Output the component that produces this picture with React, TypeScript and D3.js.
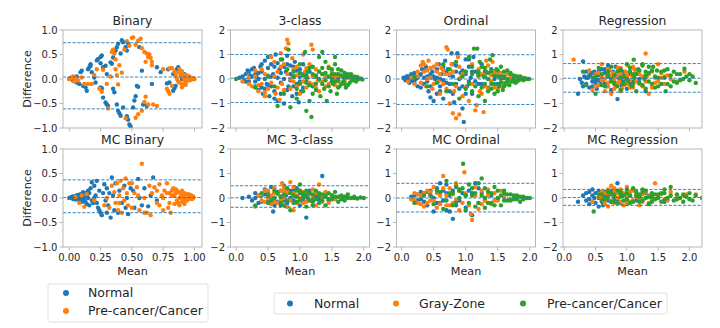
import React from "react";
import * as d3 from "d3";

type P = [number, number];

// ---------- class names / colours ----------
const classes3 = ["Normal", "Gray-Zone", "Pre-cancer/Cancer"];
const classes2 = ["Normal", "Pre-cancer/Cancer"];
const colors3 = ["#1f77b4", "#ff7f0e", "#2ca02c"];
const colors2 = ["#1f77b4", "#ff7f0e"];

// ---------- tick labels ----------
const xTicksBinary = [0, 0.25, 0.5, 0.75, 1.0];
const xTicksOther = [0, 0.5, 1.0, 1.5, 2.0];
const yTicksBinary = [-1, -0.5, 0, 0.5, 1];
const yTicksOther = [-2, -1, 0, 1, 2];

// ---------- limits of agreement (upper, mean, lower) ----------
const loaBinary = [0.74, 0.04, -0.61];
const loa3class = [1.0, 0.03, -0.96];
const loaOrdinal = [0.99, 0.0, -1.04];
const loaRegression = [0.63, 0.03, -0.54];
const loaMCBinary = [0.37, 0.01, -0.3];
const loaMC3class = [0.5, 0.01, -0.38];
const loaMCOrdinal = [0.6, 0.0, -0.57];
const loaMCRegression = [0.35, 0.02, -0.3];

// ---------- Binary ----------
const binaryNormal: P[] = [
  [0.0, 0.0], [0.01, 0.02], [0.03, -0.03], [0.04, 0.0], [0.06, 0.05], [0.06, -0.07], [0.08, -0.1], [0.09, 0.14],
  [0.1, 0.17], [0.11, -0.14], [0.13, -0.17], [0.14, -0.24], [0.15, 0.2], [0.16, 0.24], [0.17, 0.3], [0.17, 0.27],
  [0.18, 0.14], [0.2, 0.03], [0.21, -0.07], [0.22, 0.38], [0.23, 0.41], [0.25, 0.45], [0.26, 0.48], [0.25, 0.32],
  [0.27, 0.24], [0.29, 0.27], [0.3, 0.1], [0.25, -0.17], [0.26, -0.19], [0.27, -0.38], [0.29, -0.48], [0.3, -0.52],
  [0.31, -0.55], [0.33, 0.34], [0.34, 0.31], [0.35, 0.44], [0.37, 0.58], [0.38, 0.65], [0.39, 0.72], [0.41, 0.52],
  [0.42, 0.79], [0.43, 0.75], [0.45, 0.65], [0.46, 0.58], [0.47, 0.72], [0.35, -0.2], [0.36, -0.27], [0.38, -0.52],
  [0.39, -0.65], [0.4, -0.7], [0.41, -0.75], [0.43, -0.58], [0.46, -0.76], [0.47, -0.83], [0.48, -0.93], [0.49, -0.97],
  [0.51, -0.58], [0.52, -0.44], [0.53, -0.35], [0.54, -0.14], [0.55, -0.16], [0.56, 0.65], [0.58, 0.17], [0.59, -0.52],
  [0.62, -0.55], [0.66, -0.1], [0.7, 0.24], [0.73, 0.14], [0.78, -0.09], [0.79, 0.2], [0.8, -0.07], [0.83, 0.1],
  [0.86, 0.2], [0.87, 0.24], [0.88, 0.17], [0.9, 0.0], [0.85, -0.14], [0.84, -0.19], [0.83, -0.24], [0.92, 0.1],
];
const binaryCancer: P[] = [
  [0.0, 0.0], [0.01, 0.01], [0.02, 0.03], [0.03, 0.05], [0.04, -0.05], [0.05, 0.02], [0.07, -0.03], [0.1, 0.03],
  [0.12, -0.1], [0.15, -0.1], [0.18, -0.1], [0.2, 0.08], [0.22, 0.2], [0.24, -0.2], [0.26, -0.26], [0.27, 0.19],
  [0.3, -0.1], [0.31, -0.6], [0.33, 0.05], [0.34, 0.55], [0.35, 0.6], [0.36, 0.52], [0.37, 0.4], [0.37, 0.2],
  [0.38, 0.08], [0.39, -0.11], [0.4, 0.28], [0.42, 0.13], [0.44, 0.6], [0.46, 0.77], [0.48, 0.68], [0.5, 0.84],
  [0.51, 0.85], [0.53, 0.7], [0.55, 0.78], [0.57, 0.82], [0.58, 0.63], [0.6, 0.55], [0.61, 0.35], [0.62, 0.52],
  [0.63, 0.45], [0.64, 0.5], [0.65, 0.43], [0.66, 0.35], [0.66, 0.28], [0.55, -0.72], [0.58, -0.65], [0.6, -0.47],
  [0.61, -0.36], [0.63, -0.52], [0.67, -0.52], [0.53, -0.79], [0.45, -0.8], [0.7, -0.55], [0.75, 0.2], [0.8, 0.22],
  [0.82, 0.22], [0.84, 0.15], [0.85, 0.12], [0.85, 0.06], [0.86, 0.0], [0.87, -0.05], [0.88, -0.07], [0.88, 0.13],
  [0.89, 0.06], [0.9, 0.1], [0.9, -0.1], [0.91, 0.05], [0.92, 0.08], [0.92, -0.02], [0.93, 0.04], [0.93, -0.06],
  [0.94, 0.07], [0.95, 0.02], [0.95, -0.03], [0.96, 0.05], [0.97, 0.0], [0.97, -0.02], [0.98, 0.02], [0.99, 0.0],
  [0.99, 0.01], [1.0, 0.0], [0.78, -0.2], [0.8, -0.3], [0.79, -0.25], [0.82, -0.14], [0.9, -0.17], [0.93, -0.12],
  [0.88, 0.2], [0.9, 0.16],
];

// ---------- 3-class ----------
const threeNormal: P[] = [
  [0.05, 0.05], [0.1, 0.1], [0.12, -0.05], [0.15, 0.2], [0.18, 0.35], [0.2, -0.1], [0.22, 0.15], [0.25, 0.4],
  [0.28, 0.45], [0.3, -0.3], [0.32, 0.1], [0.35, -0.45], [0.38, 0.5], [0.4, 0.3], [0.42, -0.6], [0.45, 0.75],
  [0.48, -0.2], [0.5, 0.9], [0.52, -0.7], [0.55, 0.6], [0.58, 0.2], [0.6, -0.5], [0.62, 1.0], [0.65, -0.9],
  [0.68, 0.4], [0.7, -0.15], [0.72, 0.8], [0.75, -1.0], [0.78, 0.3], [0.8, 0.95], [0.82, -0.3], [0.85, 0.55],
  [0.88, -0.7], [0.9, 0.1], [0.92, 0.7], [0.95, -0.2], [0.98, -0.95], [1.0, 0.4], [1.02, -0.5], [1.05, 0.2],
  [1.1, -0.1], [1.15, 0.3], [1.2, -0.3], [1.25, 0.1], [1.3, -0.05], [1.4, 0.15], [1.5, -0.1], [1.6, 0.05],
  [1.7, 0.0], [0.3, 0.2], [0.55, -0.3], [0.65, 0.05], [0.75, 0.5], [0.85, -0.05], [0.95, 0.35], [1.05, -0.35],
  [1.8, 0.02], [0.15, -0.1], [0.2, 0.3], [0.25, 0.1], [0.3, -0.1], [0.35, 0.25], [0.4, -0.35], [0.45, 0.0],
  [0.5, 0.45], [0.5, -0.25], [0.55, 0.1], [0.6, 0.5], [0.6, -0.8], [0.65, 0.65], [0.7, 0.25], [0.7, -0.6],
  [0.75, 0.0], [0.8, -0.45], [0.8, 0.6], [0.85, 0.2], [0.9, -0.3], [0.9, 0.5], [0.95, -0.6], [1.0, 0.1],
  [1.0, -0.1], [1.05, 0.6], [1.1, 0.15], [1.15, -0.2], [0.4, 0.6], [0.45, -0.4], [0.35, 0.0],
];
const threeGray: P[] = [
  [0.1, -0.1], [0.2, 0.05], [0.25, -0.3], [0.3, 0.35], [0.35, -0.5], [0.4, -0.2], [0.45, 0.2], [0.5, -0.4],
  [0.55, 0.9], [0.6, 0.7], [0.62, -0.6], [0.65, 0.3], [0.7, 1.05], [0.72, -0.2], [0.75, 0.6], [0.78, 1.25],
  [0.8, 1.6], [0.82, 1.45], [0.85, -0.4], [0.88, 0.85], [0.9, -0.1], [0.95, 0.5], [1.0, -0.6], [1.05, 1.0],
  [1.08, 0.3], [1.1, -0.35], [1.15, 0.6], [1.18, 1.4], [1.2, 1.2], [1.22, -0.2], [1.25, 0.4], [1.3, -0.5],
  [1.35, 0.2], [1.4, -0.3], [1.45, 0.5], [1.5, 0.1], [1.55, -0.25], [1.6, 0.15], [1.7, -0.1], [1.8, 0.05],
  [1.9, 0.0], [0.45, -0.7], [0.68, -0.85], [0.95, 0.15], [1.12, 0.05], [1.28, -0.05], [0.2, -0.2], [0.3, 0.1],
  [0.35, -0.25], [0.4, 0.4], [0.45, -0.55], [0.5, 0.15], [0.55, -0.15], [0.6, 0.1], [0.65, -0.35], [0.7, 0.5],
  [0.75, -0.45], [0.8, 0.2], [0.85, 0.0], [0.9, 0.4], [0.95, -0.3], [1.0, 0.2], [1.05, -0.1], [1.1, 0.45],
  [1.15, -0.15], [1.2, 0.1], [1.25, -0.35], [1.3, 0.3], [1.35, -0.1], [1.4, 0.1], [1.45, -0.2], [1.5, 0.3],
  [1.55, 0.05], [1.6, -0.1], [1.65, 0.1], [1.75, 0.05],
];
const threeCancer: P[] = [
  [0.0, 0.0], [0.3, -0.35], [0.5, 0.1], [0.6, -0.3], [0.65, -1.1], [0.7, 0.8], [0.75, -0.6], [0.8, 0.4],
  [0.82, 1.2], [0.85, -1.15], [0.9, 0.1], [0.95, -0.8], [1.0, 0.6], [1.05, -0.5], [1.08, 1.1], [1.1, -1.3],
  [1.12, 0.3], [1.15, -0.9], [1.18, -1.55], [1.2, 0.5], [1.25, -0.2], [1.3, 0.9], [1.32, -0.7], [1.35, 0.2],
  [1.38, -0.4], [1.4, 0.7], [1.42, -0.9], [1.45, 0.1], [1.48, -0.5], [1.5, 0.4], [1.52, -0.2], [1.55, 0.6],
  [1.58, -0.6], [1.6, 0.2], [1.62, -0.3], [1.65, 0.35], [1.68, -0.1], [1.7, 0.25], [1.72, -0.35], [1.75, 0.1],
  [1.78, -0.15], [1.8, 0.2], [1.82, -0.05], [1.85, 0.1], [1.88, -0.1], [1.9, 0.05], [1.92, 0.0], [1.95, 0.02],
  [1.98, -0.02], [1.3, 0.0], [1.4, -0.05], [1.5, 0.0], [1.6, -0.05], [1.0, -0.2], [1.1, 0.05], [1.2, -0.6],
  [1.35, 1.1], [1.55, 0.9], [0.9, 0.3], [0.95, -0.4], [1.0, 0.25], [1.05, 0.15], [1.1, -0.15], [1.15, 0.45],
  [1.2, 0.2], [1.25, -0.45], [1.3, 0.3], [1.35, -0.2], [1.4, 0.25], [1.45, -0.3], [1.5, 0.2], [1.55, -0.1],
  [1.6, 0.4], [1.65, -0.2], [1.7, 0.1], [1.75, -0.25], [1.8, 0.1], [1.85, -0.05], [1.45, 0.45], [1.35, 0.45],
  [1.25, 0.15], [1.15, -0.25], [1.55, 0.2], [1.65, 0.15], [1.75, 0.2], [1.9, 0.08], [1.7, -0.2], [1.6, -0.35],
];

// ---------- Ordinal ----------
const ordNormal: P[] = [
  [0.03, 0.05], [0.06, -0.05], [0.08, 0.1], [0.1, 0.0], [0.12, -0.15], [0.15, 0.2], [0.18, -0.1], [0.2, 0.25],
  [0.22, 0.0], [0.25, -0.3], [0.28, 0.15], [0.3, -0.35], [0.32, 0.4], [0.35, -0.2], [0.38, 0.5], [0.4, 0.1],
  [0.42, -0.5], [0.45, -0.75], [0.48, 0.3], [0.5, -0.9], [0.52, 0.0], [0.55, -0.6], [0.58, 0.6], [0.6, -0.3],
  [0.62, 0.2], [0.65, -0.8], [0.68, 0.75], [0.7, -0.15], [0.72, 0.4], [0.75, -0.5], [0.78, 1.05], [0.8, 0.1],
  [0.82, -0.95], [0.85, 0.55], [0.87, 1.05], [0.9, -0.4], [0.92, 0.25], [0.95, -1.2], [0.97, -1.75], [1.0, 0.8],
  [1.02, -0.3], [1.05, 0.5], [1.08, 0.05], [1.1, -0.6], [1.12, 0.9], [1.15, 0.3], [1.2, -0.2], [1.25, 0.6],
  [1.3, 0.1], [1.35, -0.35], [1.4, 0.4], [1.45, 0.0], [1.5, -0.2], [1.55, 0.15], [1.6, 0.05], [1.7, -0.05],
  [0.55, 0.05], [0.75, 0.15], [0.95, 0.35], [0.35, 0.05], [0.65, -0.05], [0.85, -0.2], [1.05, -0.1],
  [0.05, 0.0], [0.1, 0.1], [0.15, -0.05], [0.2, -0.15], [0.25, 0.05], [0.3, 0.2], [0.35, 0.35], [0.4, -0.1],
  [0.45, 0.2], [0.5, 0.1], [0.55, 0.4], [0.6, 0.0], [0.65, 0.5], [0.7, 0.3], [0.75, -0.2], [0.8, 0.6],
  [0.85, 0.3], [0.9, 0.0], [0.95, -0.3], [1.0, 0.2], [1.05, 0.8], [1.1, 0.3], [1.15, -0.1], [1.2, 0.2],
  [1.25, -0.2], [1.3, 0.3], [0.45, -0.3], [0.6, -0.5], [0.8, -0.6], [1.0, -0.6],
];
const ordGray: P[] = [
  [0.1, -0.1], [0.15, 0.05], [0.2, -0.2], [0.25, 0.3], [0.3, 0.55], [0.33, 0.7], [0.35, 0.6], [0.38, -0.3],
  [0.4, 0.35], [0.42, 0.75], [0.45, 0.05], [0.48, -0.4], [0.5, 0.5], [0.55, 0.3], [0.6, -0.6], [0.62, 0.45],
  [0.65, -0.2], [0.7, 1.3], [0.72, 1.2], [0.75, -1.0], [0.78, 0.6], [0.8, -1.4], [0.82, -0.5], [0.85, -1.6],
  [0.88, 0.9], [0.9, -1.45], [0.92, 0.05], [0.95, -0.7], [1.0, 0.3], [1.05, -0.9], [1.1, 0.6], [1.15, -1.28],
  [1.17, -1.07], [1.2, 0.4], [1.22, -0.5], [1.25, 0.2], [1.3, -0.3], [1.35, 0.55], [1.4, -0.1], [1.45, 0.3],
  [1.5, -0.4], [1.55, 0.25], [1.6, -0.15], [1.65, 0.2], [1.7, 0.05], [1.75, -0.1], [1.8, 0.1], [1.85, 0.0],
  [1.9, 0.05], [1.95, 0.0], [1.28, -1.35], [0.58, -0.1], [0.68, 0.2], [1.32, 0.75], [1.42, 0.7],
  [0.25, 0.1], [0.3, -0.15], [0.35, 0.3], [0.4, 0.0], [0.45, 0.45], [0.5, -0.2], [0.55, 0.6], [0.6, 0.2],
  [0.65, 0.35], [0.7, -0.4], [0.75, 0.2], [0.8, 0.3], [0.85, -0.3], [0.9, 0.5], [0.95, 0.2], [1.0, -0.35],
  [1.1, -0.2], [1.2, 0.1], [1.3, 0.2], [1.4, 0.15], [1.5, 0.2], [1.6, 0.1], [1.55, -0.3], [1.45, -0.35],
  [1.35, -0.4], [1.25, -0.6], [1.7, -0.1], [1.8, -0.05],
];
const ordCancer: P[] = [
  [0.2, 0.1], [0.4, -0.3], [0.55, -0.15], [0.65, 0.6], [0.7, -0.5], [0.75, 0.4], [0.8, -0.2], [0.85, 0.7],
  [0.9, -0.8], [0.95, 0.1], [1.0, -0.4], [1.05, 0.9], [1.1, 0.2], [1.13, 1.24], [1.18, 1.24], [1.2, -0.7],
  [1.25, 0.5], [1.28, 0.1], [1.3, -0.9], [1.32, 0.3], [1.35, -0.5], [1.38, 0.8], [1.4, -0.2], [1.42, 0.97],
  [1.45, -0.6], [1.48, 0.4], [1.5, 0.1], [1.52, -0.3], [1.55, 0.5], [1.58, -0.45], [1.6, 0.3], [1.62, -0.2],
  [1.65, 0.35], [1.68, -0.25], [1.7, 0.2], [1.72, -0.1], [1.75, 0.15], [1.78, -0.15], [1.8, 0.1], [1.83, -0.05],
  [1.85, 0.08], [1.88, 0.02], [1.9, -0.05], [1.93, 0.03], [1.96, 0.0], [1.99, 0.0], [1.55, 0.0], [1.65, 0.0],
  [1.45, 0.15], [1.35, 0.0], [1.75, -0.05], [1.1, -0.5], [1.22, 0.7], [1.0, 0.3], [1.05, -0.2], [1.1, 0.5],
  [1.15, -0.3], [1.2, 0.15], [1.25, -0.35], [1.3, 0.45], [1.35, 0.25], [1.4, 0.3], [1.45, -0.2], [1.5, 0.35],
  [1.55, -0.15], [1.6, 0.1], [1.65, -0.1], [1.7, 0.25], [1.75, 0.05], [1.8, -0.1], [1.85, 0.1], [1.9, 0.0],
  [1.4, -0.4], [1.5, -0.5], [1.6, -0.3], [1.3, -0.2], [1.2, 0.3],
];

// ---------- Regression ----------
const regNormal: P[] = [
  [0.22, -0.6], [0.25, 0.0], [0.28, -0.15], [0.3, 0.72], [0.32, 0.1], [0.35, -0.2], [0.38, 0.05], [0.4, -0.35],
  [0.42, 0.2], [0.45, -0.1], [0.48, 0.3], [0.5, 0.0], [0.52, -0.4], [0.55, 0.15], [0.58, -0.2], [0.6, 0.4],
  [0.62, -0.05], [0.65, 0.25], [0.68, -0.3], [0.7, 0.55], [0.72, 0.1], [0.75, -0.45], [0.78, 0.3], [0.8, -0.1],
  [0.82, 0.5], [0.85, -0.82], [0.88, 0.0], [0.9, 0.35], [0.92, -0.25], [0.95, 0.15], [1.0, -0.4], [1.05, 0.2],
  [1.1, -0.1], [1.15, 0.3], [1.2, 0.0], [1.3, -0.5], [0.35, 0.3], [0.55, -0.05], [0.75, 0.05], [0.95, -0.05],
  [0.3, -0.3], [0.35, 0.05], [0.4, 0.15], [0.45, 0.25], [0.5, -0.15], [0.55, 0.3], [0.6, 0.0], [0.65, -0.2],
  [0.7, 0.2], [0.75, 0.0], [0.8, 0.2], [0.85, 0.1], [0.9, -0.1], [0.95, 0.3], [1.0, 0.0], [1.05, -0.2],
  [0.45, -0.3], [0.65, 0.4],
];
const regGray: P[] = [
  [0.15, 0.79], [0.4, 0.35], [0.45, -0.45], [0.5, 0.2], [0.55, -0.25], [0.6, 0.6], [0.65, -0.5], [0.68, 0.1],
  [0.7, -0.15], [0.72, 0.35], [0.75, -0.6], [0.78, 0.25], [0.8, 0.0], [0.82, -0.3], [0.85, 0.45], [0.88, -0.1],
  [0.9, 0.2], [0.92, -0.4], [0.95, 0.05], [0.98, 0.3], [1.0, -0.2], [1.02, 0.55], [1.05, -0.05], [1.08, 0.15],
  [1.1, -0.35], [1.12, 0.4], [1.15, -0.1], [1.2, 0.2], [1.25, -0.3], [1.3, 1.04], [1.32, 0.1], [1.35, -0.6],
  [1.4, 0.3], [1.45, -0.15], [1.5, 0.6], [1.55, 0.05], [1.6, -0.2], [1.65, 0.15], [1.7, 0.0], [1.8, -0.1],
  [1.92, 0.3], [0.6, -0.05], [0.85, 0.1], [1.0, 0.1], [0.5, -0.3], [0.55, 0.25], [0.6, 0.15], [0.65, 0.0],
  [0.7, 0.4], [0.75, 0.15], [0.8, -0.4], [0.85, -0.2], [0.9, 0.45], [0.95, -0.25], [1.0, 0.25], [1.05, -0.35],
  [1.1, 0.1], [1.15, 0.3], [1.2, -0.2], [1.25, 0.1], [1.3, -0.1], [1.35, 0.2], [1.4, -0.35], [1.45, 0.05],
  [1.5, -0.1], [1.55, 0.25], [1.6, 0.1], [0.7, -0.3], [0.9, -0.5], [1.1, 0.5],
];
const regCancer: P[] = [
  [0.3, 0.3], [0.35, -0.25], [0.45, 0.05], [0.5, -0.6], [0.55, 0.45], [0.6, 0.2], [0.65, -0.3], [0.7, 0.1],
  [0.75, 0.5], [0.8, -0.2], [0.85, 0.3], [0.9, -0.45], [0.95, 0.1], [1.0, 0.6], [1.02, -0.1], [1.05, 0.3],
  [1.08, -0.3], [1.11, 0.79], [1.12, 0.05], [1.15, -0.5], [1.18, 0.4], [1.2, -0.15], [1.25, 0.55], [1.28, 0.0],
  [1.3, -0.4], [1.35, 0.25], [1.4, -0.2], [1.42, 0.5], [1.45, 0.1], [1.5, -0.3], [1.55, 0.3], [1.6, 0.05],
  [1.62, -0.5], [1.65, 0.4], [1.7, 0.15], [1.75, -0.1], [1.8, 0.2], [1.85, -0.05], [1.92, 0.42], [1.95, 0.1],
  [2.0, -0.05], [2.05, 0.1], [2.1, -0.16], [1.1, 0.2], [1.3, 0.15], [0.9, 0.05], [1.48, 0.35], [0.5, 0.1],
  [0.6, -0.25], [0.7, 0.3], [0.75, -0.1], [0.8, 0.15], [0.85, -0.3], [0.9, 0.4], [0.95, -0.2], [1.0, 0.0],
  [1.05, 0.45], [1.1, -0.2], [1.15, 0.2], [1.2, 0.35], [1.25, -0.25], [1.3, 0.3], [1.35, -0.1], [1.4, 0.35],
  [1.45, -0.35], [1.5, 0.05], [1.55, -0.2], [1.6, 0.35], [1.65, -0.2], [1.7, -0.3], [1.75, 0.3], [1.8, -0.15],
  [1.85, 0.2], [1.9, 0.0], [2.0, 0.2], [1.25, 0.6], [1.35, 0.5],
];

// ---------- MC Binary ----------
const mcBinaryNormal: P[] = [
  [0.0, 0.0], [0.02, 0.02], [0.03, -0.02], [0.04, 0.03], [0.05, -0.03], [0.06, 0.05], [0.07, 0.0], [0.08, -0.05],
  [0.09, 0.08], [0.1, 0.02], [0.1, -0.08], [0.11, 0.12], [0.12, -0.04], [0.13, 0.1], [0.14, -0.12], [0.15, 0.15],
  [0.15, 0.0], [0.16, -0.15], [0.17, 0.2], [0.18, 0.32], [0.19, -0.1], [0.2, 0.25], [0.21, 0.05], [0.22, 0.35],
  [0.23, -0.2], [0.24, 0.15], [0.25, -0.3], [0.26, -0.35], [0.27, 0.1], [0.28, 0.28], [0.29, -0.05], [0.3, 0.2],
  [0.31, -0.15], [0.33, -0.4], [0.34, 0.42], [0.35, 0.05], [0.36, -0.25], [0.37, 0.3], [0.39, -0.3], [0.4, 0.15],
  [0.42, -0.1], [0.44, 0.25], [0.46, 0.0], [0.47, -0.33], [0.49, 0.2], [0.51, 0.15], [0.52, -0.2], [0.55, 0.39],
  [0.56, 0.0], [0.58, -0.15], [0.6, 0.2], [0.63, -0.17], [0.65, 0.05], [0.67, 0.42], [0.7, -0.05],
  [0.01, 0.01], [0.03, 0.03], [0.05, 0.0], [0.07, 0.06], [0.08, 0.02], [0.09, -0.02], [0.11, 0.0], [0.12, 0.06],
  [0.13, -0.08], [0.14, 0.04], [0.16, 0.1], [0.18, -0.05], [0.2, 0.0], [0.22, -0.1], [0.24, -0.25], [0.3, -0.3],
  [0.32, 0.1], [0.45, -0.2],
];
const mcBinaryCancer: P[] = [
  [0.05, 0.02], [0.08, -0.1], [0.1, 0.05], [0.12, -0.18], [0.14, 0.08], [0.2, -0.05], [0.28, -0.15], [0.3, 0.0],
  [0.32, -0.2], [0.34, 0.25], [0.36, 0.12], [0.37, -0.1], [0.38, 0.3], [0.39, -0.25], [0.4, 0.05], [0.41, 0.35],
  [0.42, -0.3], [0.43, 0.2], [0.44, -0.05], [0.45, 0.4], [0.46, 0.1], [0.47, -0.15], [0.48, 0.3], [0.5, -0.2],
  [0.52, 0.1], [0.54, 0.22], [0.56, -0.25], [0.58, 0.7], [0.6, 0.0], [0.62, -0.3], [0.64, 0.25], [0.65, -0.35],
  [0.66, 0.1], [0.68, 0.22], [0.7, -0.1], [0.72, 0.28], [0.74, 0.05], [0.75, -0.25], [0.76, 0.15], [0.78, 0.3],
  [0.79, -0.2], [0.8, 0.1], [0.81, -0.3], [0.82, 0.05], [0.83, 0.2], [0.84, -0.12], [0.85, 0.1], [0.86, -0.05],
  [0.87, 0.12], [0.88, 0.0], [0.89, 0.08], [0.9, -0.08], [0.91, 0.05], [0.92, 0.1], [0.93, -0.03], [0.94, 0.06],
  [0.95, 0.0], [0.96, 0.04], [0.97, -0.02], [0.98, 0.02], [0.99, 0.0], [0.9, 0.15], [0.92, -0.12], [0.85, 0.18],
  [0.88, -0.15], [0.95, 0.08], [0.7, 0.15], [0.72, -0.15], [0.75, 0.0], [0.78, 0.1], [0.8, -0.1], [0.82, 0.15],
  [0.84, 0.05], [0.86, 0.15], [0.87, -0.1], [0.89, 0.1], [0.9, 0.02], [0.91, -0.04], [0.93, 0.07], [0.94, -0.05],
  [0.96, 0.02], [0.97, 0.06], [0.98, -0.02], [0.99, 0.03], [0.5, 0.3], [0.55, 0.05], [0.6, -0.3], [0.4, -0.1],
];

// ---------- MC 3-class ----------
const mc3Normal: P[] = [
  [0.1, 0.0], [0.2, 0.05], [0.25, -0.1], [0.3, 0.2], [0.35, -0.2], [0.4, 0.1], [0.45, 0.35], [0.5, -0.15],
  [0.55, 0.45], [0.58, -0.55], [0.6, 0.0], [0.65, 0.25], [0.7, -0.3], [0.75, 0.5], [0.78, 0.1], [0.8, -0.2],
  [0.85, 0.3], [0.9, -0.1], [0.95, 0.4], [1.0, -0.3], [1.05, 0.15], [1.1, -0.8], [1.12, 0.0], [1.15, 0.3],
  [1.2, -0.15], [1.25, 0.1], [1.3, -0.05], [1.35, 0.9], [1.4, 0.05], [1.45, -0.1], [0.5, 0.1], [0.7, 0.05],
  [0.9, 0.15], [1.0, 0.0], [0.3, 0.0], [0.35, 0.1], [0.4, -0.15], [0.45, 0.15], [0.5, 0.25], [0.55, -0.1],
  [0.6, 0.2], [0.65, -0.15], [0.7, 0.3], [0.75, -0.1], [0.8, 0.2], [0.85, 0.0], [0.9, 0.3], [0.95, -0.2],
  [1.0, 0.2], [1.05, -0.1], [1.1, 0.1], [0.8, -0.35], [0.6, -0.3],
];
const mc3Gray: P[] = [
  [0.3, -0.35], [0.35, 0.1], [0.4, -0.1], [0.45, 0.3], [0.5, 0.0], [0.55, -0.25], [0.6, 0.4], [0.65, 0.15],
  [0.7, -0.1], [0.72, 0.6], [0.75, 0.3], [0.8, -0.35], [0.82, 0.2], [0.85, 0.65], [0.9, -0.5], [0.95, 0.1],
  [1.0, 0.3], [1.05, -0.2], [1.1, 0.2], [1.15, -0.1], [1.2, 0.35], [1.25, -0.3], [1.3, 0.55], [1.35, 0.0],
  [1.4, 0.25], [1.45, -0.2], [1.5, 0.1], [1.55, -0.05], [0.6, -0.15], [0.9, 0.45], [1.2, 0.0], [0.4, 0.15],
  [0.45, -0.15], [0.5, 0.3], [0.55, 0.1], [0.6, 0.2], [0.65, -0.2], [0.7, 0.3], [0.75, 0.0], [0.8, 0.25],
  [0.85, -0.1], [0.9, 0.2], [0.95, -0.2], [1.0, 0.0], [1.05, 0.25], [1.1, -0.15], [1.15, 0.15], [1.25, 0.2],
  [1.35, -0.15], [0.75, 0.45],
];
const mc3Cancer: P[] = [
  [0.3, -0.3], [0.4, 0.2], [0.5, -0.2], [0.6, 0.3], [0.7, 0.05], [0.75, -0.3], [0.8, 0.4], [0.85, -0.5],
  [0.9, 0.1], [0.95, -0.15], [1.0, 0.55], [1.05, 0.0], [1.1, -0.35], [1.15, 0.2], [1.2, -0.1], [1.25, 0.3],
  [1.3, -0.2], [1.35, 0.15], [1.4, -0.3], [1.45, 0.2], [1.5, -0.05], [1.55, 0.25], [1.6, -0.15], [1.65, 0.1],
  [1.7, -0.1], [1.75, 0.15], [1.8, 0.0], [1.85, 0.05], [1.9, -0.02], [1.95, 0.02], [2.0, 0.0], [1.1, 0.1],
  [1.3, 0.05], [1.5, 0.1], [0.95, 0.05], [1.6, 0.05], [1.7, 0.05], [0.5, 0.1], [0.55, -0.1], [0.6, 0.0],
  [0.65, 0.2], [0.7, -0.2], [0.75, 0.15], [0.8, -0.1], [0.85, 0.2], [0.9, -0.2], [0.95, 0.3], [1.0, -0.1],
  [1.05, 0.2], [1.1, 0.3], [1.15, -0.1], [1.2, 0.15], [1.25, -0.05], [1.3, 0.2], [1.35, -0.1], [1.4, 0.1],
  [1.45, -0.05], [1.55, 0.05], [1.65, -0.05], [1.75, 0.0], [1.85, 0.0], [1.2, -0.3], [1.0, 0.3],
];

// ---------- MC Ordinal ----------
const mcOrdNormal: P[] = [
  [0.15, 0.05], [0.2, -0.1], [0.25, 0.15], [0.3, -0.05], [0.35, 0.2], [0.4, -0.3], [0.45, 0.1], [0.5, -0.55],
  [0.55, 0.4], [0.6, -0.2], [0.65, 0.3], [0.7, -0.5], [0.75, 0.1], [0.8, -0.85], [0.85, 0.5], [0.9, -0.1],
  [0.95, 0.2], [1.0, -0.4], [1.05, 0.3], [1.1, -0.7], [1.15, 0.6], [1.2, -0.2], [1.25, 0.2], [1.3, -0.1],
  [1.4, 0.1], [1.5, -0.05], [0.6, 0.6], [0.75, -0.55], [0.4, 0.25], [0.2, 0.1], [0.25, -0.1], [0.3, 0.25],
  [0.35, -0.15], [0.45, 0.3], [0.5, 0.0], [0.55, -0.2], [0.6, 0.2], [0.65, -0.1], [0.7, 0.2], [0.8, 0.3],
  [0.85, -0.3], [0.9, 0.35], [1.0, 0.1], [1.1, 0.2], [1.2, 0.4], [0.7, 0.55],
];
const mcOrdGray: P[] = [
  [0.15, -0.05], [0.2, 0.2], [0.25, -0.2], [0.3, 0.1], [0.35, -0.35], [0.4, 0.3], [0.45, -0.1], [0.5, 0.45],
  [0.55, -0.4], [0.6, 0.1], [0.65, 0.9], [0.7, -0.3], [0.75, 0.4], [0.8, -0.2], [0.85, 0.6], [0.9, -0.5],
  [0.98, 1.05], [1.0, 0.2], [1.05, -0.3], [1.1, -0.9], [1.15, 0.45], [1.2, -0.45], [1.25, 0.3], [1.3, -0.1],
  [1.35, 0.35], [1.4, -0.25], [1.45, 0.2], [1.5, -0.1], [1.55, 0.3], [1.6, 0.05], [1.7, -0.05], [1.8, 0.05],
  [1.08, -0.65], [0.2, -0.1], [0.25, 0.15], [0.3, -0.25], [0.35, 0.2], [0.4, -0.2], [0.45, 0.25], [0.5, -0.1],
  [0.55, 0.2], [0.6, -0.25], [0.65, 0.4], [0.7, 0.1], [0.75, -0.3], [0.8, 0.15], [0.85, -0.1], [0.9, 0.3],
  [0.95, -0.2], [1.15, 0.1], [1.25, -0.25], [1.35, 0.1], [1.45, -0.1], [1.6, 0.2],
];
const mcOrdCancer: P[] = [
  [0.2, -0.2], [0.35, 0.1], [0.5, -0.25], [0.6, 0.25], [0.65, -0.45], [0.7, 0.7], [0.75, 0.2], [0.8, -0.3],
  [0.85, 0.45], [0.9, 0.0], [0.96, 1.4], [1.0, -0.5], [1.05, 0.55], [1.1, 0.1], [1.15, -0.35], [1.2, 0.6],
  [1.25, 0.8], [1.3, -0.4], [1.35, 0.25], [1.4, -0.2], [1.45, 0.45], [1.5, 0.0], [1.55, -0.3], [1.6, 0.2],
  [1.65, -0.1], [1.7, 0.15], [1.75, -0.05], [1.8, 0.1], [1.85, -0.15], [1.9, 0.05], [1.95, 0.0], [2.0, 0.0],
  [1.3, 0.0], [1.6, 0.3], [0.9, 0.3], [0.45, 0.1], [0.55, 0.3], [0.7, -0.1], [0.8, 0.2], [0.85, -0.2],
  [0.95, 0.4], [1.0, 0.1], [1.05, -0.2], [1.1, 0.4], [1.15, 0.2], [1.2, -0.2], [1.25, 0.1], [1.3, 0.4],
  [1.35, -0.2], [1.4, 0.2], [1.45, -0.3], [1.5, 0.3], [1.55, 0.1], [1.6, -0.1], [1.65, 0.15], [1.7, -0.1],
  [1.75, 0.1], [1.8, -0.05], [1.85, 0.05], [1.9, -0.05],
];

// ---------- MC Regression ----------
const mcRegNormal: P[] = [
  [0.22, -0.15], [0.3, 0.1], [0.35, 0.2], [0.4, -0.05], [0.45, 0.35], [0.48, 0.0], [0.5, -0.2], [0.55, 0.3],
  [0.6, 0.1], [0.62, -0.3], [0.65, 0.25], [0.7, -0.1], [0.75, 0.3], [0.8, 0.0], [0.85, 0.6], [0.9, -0.2],
  [0.95, 0.15], [1.0, -0.25], [1.05, 0.1], [1.1, 0.35], [1.15, -0.1], [1.2, 0.05], [1.3, 0.2], [1.4, -0.05],
  [0.55, -0.35], [0.75, 0.15], [1.6, -0.15], [0.35, -0.1], [0.4, 0.25], [0.45, 0.1], [0.5, 0.2], [0.55, 0.0],
  [0.6, -0.15], [0.65, 0.1], [0.7, 0.2], [0.75, -0.15], [0.8, 0.25], [0.85, -0.05], [0.9, 0.2], [1.0, 0.1],
  [1.1, -0.1], [0.4, -0.25],
];
const mcRegGray: P[] = [
  [0.45, -0.15], [0.55, 0.05], [0.6, 0.25], [0.65, -0.1], [0.7, 0.35], [0.75, 0.5], [0.8, -0.2], [0.85, 0.2],
  [0.9, 0.35], [0.95, -0.3], [1.0, 0.1], [1.05, -0.15], [1.1, 0.3], [1.15, 0.05], [1.2, -0.3], [1.25, 0.15],
  [1.3, 0.0], [1.35, -0.2], [1.45, 0.6], [1.5, 0.1], [1.6, -0.05], [1.7, 0.25], [1.8, 0.1], [1.95, 0.15],
  [2.1, 0.15], [0.7, -0.35], [1.0, 0.45], [0.6, 0.0], [0.65, 0.2], [0.7, 0.1], [0.75, -0.1], [0.8, 0.3],
  [0.85, 0.0], [0.9, -0.15], [0.95, 0.2], [1.0, -0.2], [1.05, 0.25], [1.1, -0.1], [1.15, 0.2], [1.2, 0.0],
  [1.25, -0.15], [1.3, 0.25], [1.35, 0.1], [1.4, -0.1], [1.55, 0.15], [1.65, -0.1], [1.9, 0.1], [0.65, -0.25],
  [0.8, 0.4],
];
const mcRegCancer: P[] = [
  [0.47, -0.55], [0.55, 0.15], [0.6, -0.1], [0.7, 0.05], [0.75, 0.2], [0.8, -0.15], [0.85, 0.3], [0.9, 0.05],
  [0.95, -0.1], [1.0, 0.2], [1.05, -0.2], [1.1, 0.4], [1.15, 0.1], [1.2, -0.15], [1.25, 0.25], [1.3, 0.0],
  [1.35, -0.25], [1.4, 0.2], [1.45, -0.05], [1.5, 0.15], [1.55, -0.15], [1.6, 0.2], [1.65, 0.0], [1.7, 0.45],
  [1.75, -0.1], [1.8, 0.15], [1.85, 0.0], [1.9, -0.15], [1.95, 0.05], [2.0, 0.2], [2.05, -0.1], [2.2, 0.0],
  [1.2, 0.05], [1.4, 0.05], [1.0, -0.05], [0.9, 0.15], [0.6, 0.15], [0.65, -0.05], [0.7, 0.25], [0.75, -0.15],
  [0.8, 0.1], [0.85, -0.2], [0.9, 0.25], [0.95, 0.1], [1.0, 0.35], [1.05, 0.1], [1.1, -0.15], [1.15, 0.25],
  [1.2, 0.15], [1.25, -0.1], [1.3, 0.3], [1.35, 0.05], [1.4, -0.15], [1.45, 0.15], [1.5, 0.0], [1.55, 0.2],
  [1.6, -0.1], [1.7, 0.1], [1.8, -0.05], [1.9, 0.15], [2.0, -0.05], [2.1, 0.1], [1.6, 0.35], [1.25, 0.35],
];

// ---------- layout ----------
const W = 720;
const H = 328;
const colLeft = [63, 230.5, 396.5, 563];
const rowTop = [30, 149];
const PW = 139;
const PH = 98;
const colXDomain: [number, number][] = [[-0.05, 1.06], [-0.088, 2.09], [-0.08, 2.09], [-0.02, 2.2]];
const FONT = "'DejaVu Sans', sans-serif";
const TXT = "#262626";
const SPINE = "#b0b0b0";

interface PanelSpec {
  title: string;
  row: number;
  col: number;
  binary: boolean;
  loa: number[];
  series: P[][];
}

const panels: PanelSpec[] = [
  { title: "Binary", row: 0, col: 0, binary: true, loa: loaBinary, series: [binaryNormal, binaryCancer] },
  { title: "3-class", row: 0, col: 1, binary: false, loa: loa3class, series: [threeNormal, threeGray, threeCancer] },
  { title: "Ordinal", row: 0, col: 2, binary: false, loa: loaOrdinal, series: [ordNormal, ordGray, ordCancer] },
  { title: "Regression", row: 0, col: 3, binary: false, loa: loaRegression, series: [regNormal, regGray, regCancer] },
  { title: "MC Binary", row: 1, col: 0, binary: true, loa: loaMCBinary, series: [mcBinaryNormal, mcBinaryCancer] },
  { title: "MC 3-class", row: 1, col: 1, binary: false, loa: loaMC3class, series: [mc3Normal, mc3Gray, mc3Cancer] },
  { title: "MC Ordinal", row: 1, col: 2, binary: false, loa: loaMCOrdinal, series: [mcOrdNormal, mcOrdGray, mcOrdCancer] },
  { title: "MC Regression", row: 1, col: 3, binary: false, loa: loaMCRegression, series: [mcRegNormal, mcRegGray, mcRegCancer] },
];

function Panel({ spec, idx }: { spec: PanelSpec; idx: number }) {
  const x0 = colLeft[spec.col];
  const y0 = rowTop[spec.row];
  const x = d3.scaleLinear().domain(colXDomain[spec.col]).range([x0, x0 + PW]);
  const y = d3.scaleLinear().domain(spec.binary ? [-1, 1] : [-2, 2]).range([y0 + PH, y0]);
  const xTicks = spec.binary ? xTicksBinary : xTicksOther;
  const yTicks = spec.binary ? yTicksBinary : yTicksOther;
  const xFmt = spec.binary ? d3.format(".2f") : d3.format(".1f");
  const yFmt = spec.binary ? d3.format(".1f") : d3.format("d");
  const colors = spec.binary ? colors2 : colors3;
  const clipId = `clip${idx}`;
  return (
    <g>
      <defs>
        <clipPath id={clipId}>
          <rect x={x0} y={y0} width={PW} height={PH} />
        </clipPath>
      </defs>
      <text x={x0 + PW / 2} y={y0 - 5} textAnchor="middle" fontSize={12.4} fill={TXT} fontFamily={FONT}>
        {spec.title}
      </text>
      <g clipPath={`url(#${clipId})`}>
        {spec.series.map((pts, si) =>
          pts.map((p, i) => (
            <circle key={`${si}-${i}`} cx={x(p[0])} cy={y(p[1])} r={2.2} fill={colors[si]} />
          ))
        )}
        {spec.loa.map((v, i) => (
          <line key={`l${i}`} x1={x0} x2={x0 + PW} y1={y(v)} y2={y(v)} stroke="#1f77b4" strokeWidth={0.9}
            strokeDasharray="3.2,1.6" />
        ))}
      </g>
      <rect x={x0} y={y0} width={PW} height={PH} fill="none" stroke={SPINE} strokeWidth={0.9} />
      {yTicks.map((t) => (
        <g key={`y${t}`}>
          <line x1={x0 - 3.5} x2={x0} y1={y(t)} y2={y(t)} stroke={SPINE} strokeWidth={0.9} />
          <text x={x0 - 5.5} y={y(t)} dy="0.35em" textAnchor="end" fontSize={10} fill={TXT} fontFamily={FONT}>
            {yFmt(t)}
          </text>
        </g>
      ))}
      {xTicks.map((t) => (
        <g key={`x${t}`}>
          <line x1={x(t)} x2={x(t)} y1={y0 + PH} y2={y0 + PH + 3.5} stroke={SPINE} strokeWidth={0.9} />
          {spec.row === 1 && (
            <text x={x(t)} y={y0 + PH + 14} textAnchor="middle" fontSize={10} fill={TXT} fontFamily={FONT}>
              {xFmt(t)}
            </text>
          )}
        </g>
      ))}
      {spec.row === 1 && (
        <text x={x0 + PW / 2} y={y0 + PH + 28} textAnchor="middle" fontSize={11.2} fill={TXT} fontFamily={FONT}>
          Mean
        </text>
      )}
      {spec.col === 0 && (
        <text transform={`translate(${27},${y0 + PH / 2}) rotate(-90)`} dy="0.35em" textAnchor="middle"
          fontSize={11.2} fill={TXT} fontFamily={FONT}>
          Difference
        </text>
      )}
    </g>
  );
}

function Legends() {
  return (
    <g fontFamily={FONT} fontSize={12.5} fill={TXT}>
      <rect x={48} y={284} width={160} height={38} rx={2} fill="white" stroke="#dcdcdc" strokeWidth={0.9} />
      {classes2.map((c, i) => (
        <g key={c}>
          <circle cx={66} cy={293 + i * 18} r={3} fill={colors2[i]} />
          <text x={88} y={293 + i * 18} dy="0.35em">{c}</text>
        </g>
      ))}
      <rect x={274} y={293} width={393} height={21} rx={2} fill="white" stroke="#dcdcdc" strokeWidth={0.9} />
      {classes3.map((c, i) => {
        const mx = [290, 396, 523][i];
        const tx = [314, 419, 547][i];
        return (
          <g key={c}>
            <circle cx={mx} cy={303.5} r={3} fill={colors3[i]} />
            <text x={tx} y={303.5} dy="0.35em">{c}</text>
          </g>
        );
      })}
    </g>
  );
}

export default function App() {
  return (
    <svg width={W} height={H} style={{ position: "fixed", left: 0, top: 0, background: "white" }}>
      <rect width={W} height={H} fill="white" />
      {panels.map((p, i) => (
        <Panel key={p.title} spec={p} idx={i} />
      ))}
      <Legends />
    </svg>
  );
}
